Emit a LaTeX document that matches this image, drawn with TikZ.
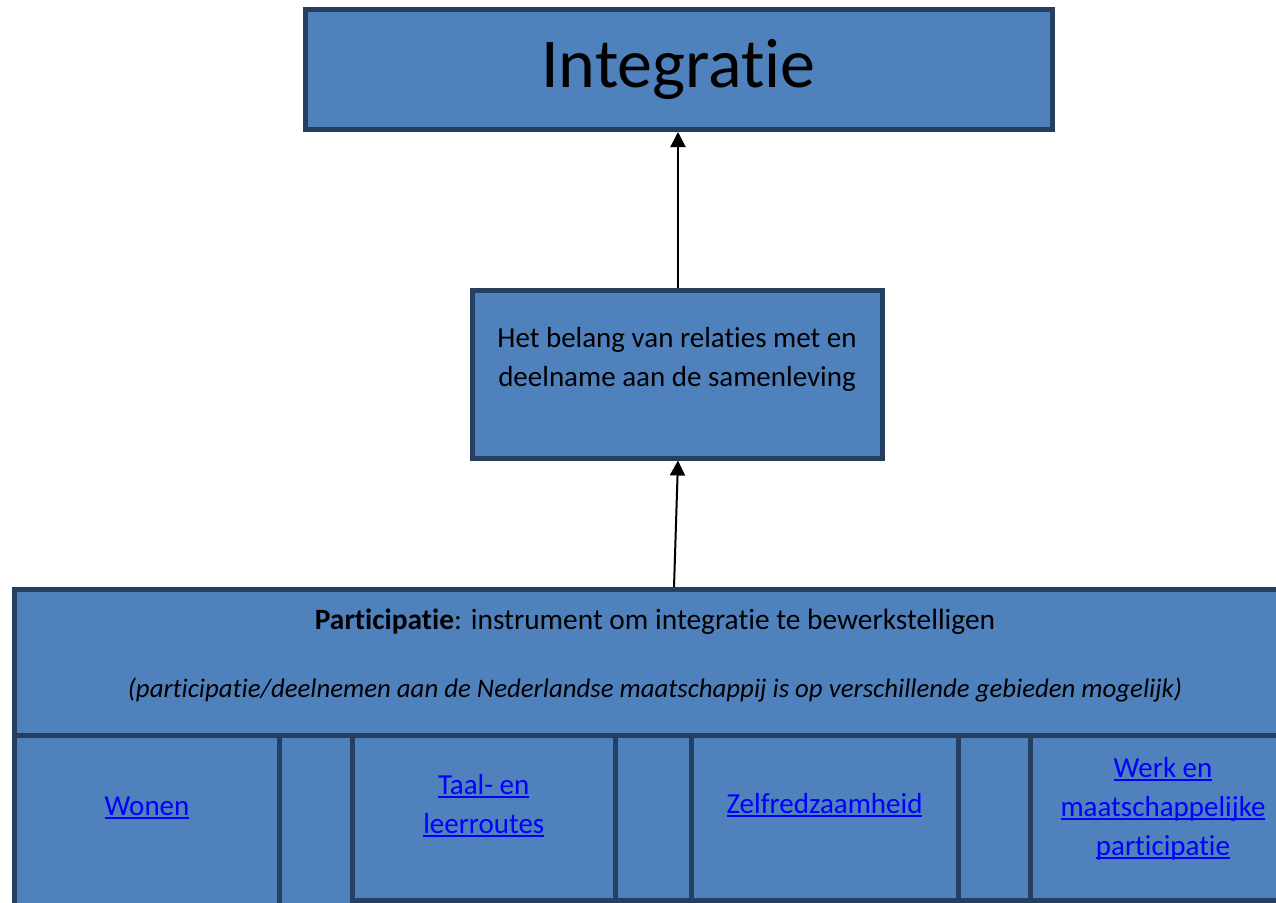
\documentclass[tikz,border=0pt]{standalone}
\usepackage{fontspec}
\setmainfont[Ligatures=NoCommon]{Carlito}
\usepackage{xcolor}
\usetikzlibrary{arrows.meta}
\definecolor{boxfill}{HTML}{4F81BD}
\definecolor{boxline}{HTML}{243F60}
\definecolor{linkblue}{HTML}{0000FF}
\newcommand{\lnk}[1]{%
  % blue underlined link text
  \textcolor{linkblue}{\setbox0\hbox{#1}\rlap{\rule[-4pt]{\wd0}{1.8pt}}\box0}%
}
\newcommand{\cellbox}[4]{%
  % table cell below the participatie box: name, left, right, bottom
  \node[box, minimum width={#3-#2}, minimum height={#4-735.5}]
    (#1) at ({(#2+#3)/2}, {(735.5+#4)/2}) {};
}

\begin{document}
\begin{tikzpicture}[x=1pt, y=-1pt,
        box/.style={draw=boxline, fill=boxfill, line width=5pt, inner sep=0pt},
        boxtext/.style={font={\fontsize{29}{39}\selectfont}, align=center,
            anchor=base, inner sep=0pt},
        subtext/.style={boxtext, font={\fontsize{26.8}{34}\selectfont\itshape}},
        connect/.style={black, line width=2pt,
            -{Triangle[width=15pt,length=15pt]}},
        ]
        \clip (0, 0) rectangle (1276, 902);

        % Integratie
        \node[box, minimum width=747, minimum height=120] (integratie) at (678.5, 69.5) {};
        \node[boxtext, font={\fontsize{70}{84}\selectfont}] (integratietxt) at (678.5, 87) {Integratie};

        % relaties en deelname (base = last line)
        \node[box, minimum width=410, minimum height=168] (belang) at (677, 374) {};
        \node[boxtext] (belangtxt) at (677, 386)
            {Het belang van relaties met en\\deelname aan de samenleving};

        % Participatie
        \node[box, minimum width=1281.5, minimum height=146] (part) at (655.25, 662.5) {};
        \node[boxtext, font={\fontsize{29.4}{39}\selectfont}] (parttxt) at (655, 629)
            {\textbf{Participatie}: instrument om integratie te bewerkstelligen};
        \node[subtext] (partsub) at (655, 697)
            {(participatie/deelnemen aan de Nederlandse maatschappij is op verschillende gebieden mogelijk)};

        % gebieden
        \cellbox{wonen}{14.5}{279.5}{915}
        \cellbox{gapA}{279.5}{352.5}{915}
        \cellbox{taal}{352.5}{615}{900}
        \cellbox{gapB}{615}{691}{900}
        \cellbox{zelf}{691}{958}{900}
        \cellbox{gapC}{958}{1030}{900}
        \cellbox{werk}{1030}{1296}{900}

        \node[boxtext] (wonentxt) at (wonen |- 0, 815) {\lnk{Wonen}};
        \node[boxtext] (taaltxt) at (taal |- 0, 833) {\lnk{Taal- en}\\\lnk{leerroutes}};
        \node[boxtext] (zelftxt) at (zelf |- 0, 813) {\lnk{Zelfredzaamheid}};
        \node[boxtext] (werktxt) at (werk |- 0, 855)
            {\lnk{Werk en}\\\lnk{maatschappelijke}\\\lnk{participatie}};

        % arrows
        \draw[connect] ([xshift=18.75]part.north) -- ([xshift=1]belang.south);
        \draw[connect] ([xshift=1]belang.north) -- ([xshift=-0.5]integratie.south);
    \end{tikzpicture}
\end{document}
